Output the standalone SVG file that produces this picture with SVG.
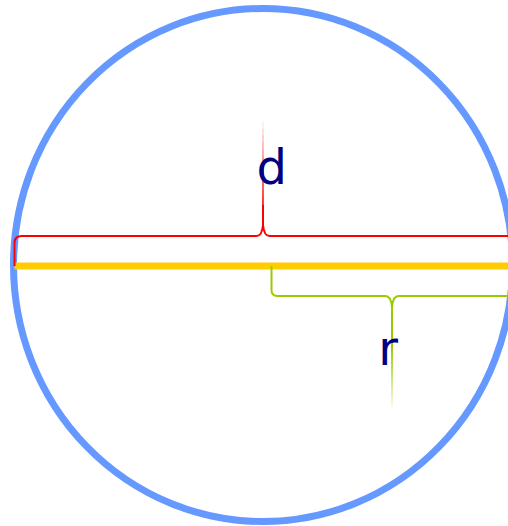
<svg xmlns="http://www.w3.org/2000/svg" width="508" height="526" viewBox="0 0 508 526">
<style>
.brace{fill:none;stroke-width:2;stroke-linejoin:round}
.lbl{font-family:"DejaVu Sans",sans-serif;font-size:48px;fill:#000080}
</style>
<rect width="508" height="526" fill="#ffffff"/>
<g id="circle">
<ellipse cx="263" cy="265" rx="249.5" ry="256.5" fill="none" stroke="#6699ff" stroke-width="7"/>
</g>
<g id="diameter-line">
<line x1="14.5" y1="266" x2="508" y2="266" stroke="#ffcc00" stroke-width="7"/>
</g>
<g id="connectors">
<g id="brace-d">
<path class="brace" stroke="#ff0000" d="M14.5,266 V243 Q14.5,236 21.5,236 H256.5 Q262,236 263,225 Q264,236 269.5,236 H508"/>
<line x1="263" y1="226" x2="263" y2="205" stroke="#ff0000" stroke-width="2"/>
<polygon points="262.2,206 263.8,206 263,118" fill="#ff0000"/>
</g>
<g id="brace-r">
<path class="brace" stroke="#99cc00" d="M271.5,266 V290 Q271.5,296 277.5,296 H385.5 Q391,296 392,307 Q393,296 398.5,296 H508"/>
<line x1="392" y1="306" x2="392" y2="345" stroke="#99cc00" stroke-width="2"/>
<polygon points="391,345 393,345 392,412" fill="#99cc00"/>
</g>
</g>
<g id="label-d"><text class="lbl" x="256.6" y="184">d</text></g>
<g id="label-r"><text class="lbl" x="378.3" y="365">r</text></g>
</svg>
